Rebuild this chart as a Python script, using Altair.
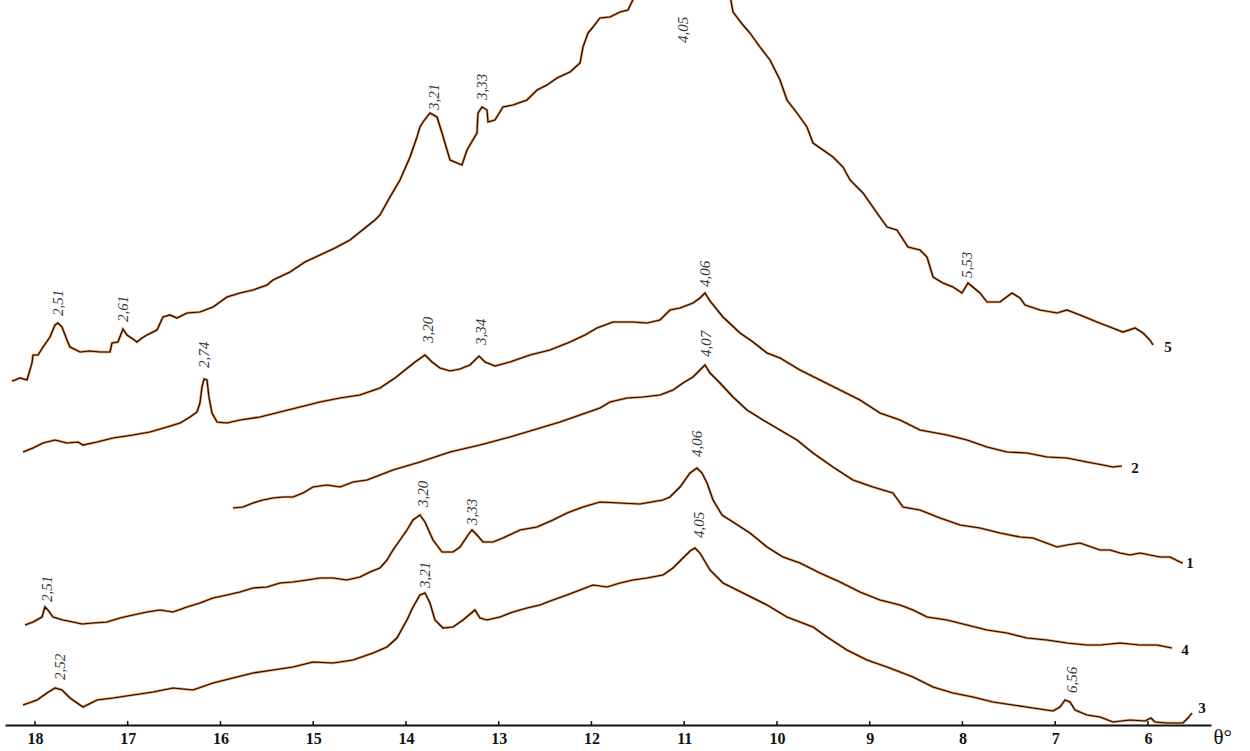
import altair as alt
import pandas as pd

# ---- curve data: theta (deg) and intensity (arbitrary units) ----
c5_theta = [18.248, 18.215, 18.161, 18.086, 18.032, 18.021, 17.967, 17.913, 17.838, 17.784, 17.752, 17.708, 17.655, 17.622,
            17.514, 17.407, 17.299, 17.191, 17.169, 17.105, 17.051, 17.008, 16.943, 16.900, 16.846, 16.792, 16.684, 16.620,
            16.544, 16.469, 16.361, 16.221, 16.080, 15.930, 15.789, 15.649, 15.498, 15.434, 15.250, 15.089, 14.927, 14.765,
            14.603, 14.442, 14.334, 14.280, 14.172, 14.064, 13.956, 13.881, 13.849, 13.816, 13.741, 13.665, 13.611, 13.525,
            13.396, 13.342, 13.234, 13.223, 13.180, 13.126, 13.115, 13.040, 12.954, 12.846, 12.695, 12.587, 12.479, 12.371,
            12.231, 12.123, 12.091, 12.037, 11.983, 11.908, 11.800, 11.692, 11.606, 11.477, 10.959, 10.506, 10.474, 10.366,
            10.291, 10.183, 10.075, 9.967, 9.892, 9.784, 9.676, 9.611, 9.503, 9.396, 9.288, 9.212, 9.072, 8.921, 8.813,
            8.706, 8.587, 8.458, 8.382, 8.317, 8.210, 8.102, 8.005, 7.940, 7.811, 7.735, 7.595, 7.466, 7.379, 7.325, 7.164,
            6.980, 6.873, 6.732, 6.549, 6.409, 6.269, 6.139, 6.053, 5.978, 5.945]
c5_int = [344, 345, 347, 345, 362, 370, 370, 378, 388, 400, 402, 398, 385, 378,
          373, 374, 373, 373, 382, 383, 396, 390, 386, 383, 387, 390, 395, 408,
          410, 407, 412, 413, 418, 428, 432, 435, 440, 445, 453, 463, 470, 477,
          485, 497, 505, 510, 528, 545, 568, 588, 598, 603, 612, 608, 592, 565,
          560, 575, 592, 612, 618, 615, 603, 605, 618, 620, 625, 635, 640, 647,
          653, 662, 678, 692, 698, 707, 708, 713, 715, 740, 770, 730, 713, 700,
          692, 678, 665, 645, 625, 612, 598, 582, 575, 568, 558, 545, 532, 512, 498,
          495, 478, 475, 468, 448, 442, 438, 432, 442, 432, 423, 423, 432, 427, 420, 415,
          412, 415, 410, 403, 398, 393, 397, 392, 385, 380]

c2_theta = [18.129, 18.021, 17.913, 17.784, 17.655, 17.536, 17.482, 17.331, 17.159, 16.943, 16.760, 16.576, 16.436, 16.328,
            16.253, 16.221, 16.199, 16.177, 16.145, 16.124, 16.091, 16.037, 15.930, 15.789, 15.574, 15.358, 15.142, 14.927,
            14.711, 14.496, 14.280, 14.118, 14.010, 13.902, 13.795, 13.719, 13.633, 13.525, 13.417, 13.310, 13.212, 13.148,
            13.040, 12.878, 12.663, 12.447, 12.231, 12.070, 11.940, 11.768, 11.552, 11.401, 11.261, 11.153, 11.045, 10.905,
            10.830, 10.776, 10.722, 10.582, 10.398, 10.258, 10.107, 9.967, 9.751, 9.536, 9.320, 9.105, 8.889, 8.673, 8.458,
            8.166, 7.951, 7.735, 7.520, 7.304, 7.088, 6.873, 6.657, 6.485, 6.377, 6.280]
c2_int = [273, 277, 282, 285, 282, 283, 280, 283, 287, 290, 293, 298, 302, 308,
          313, 322, 338, 346, 345, 328, 312, 303, 302, 305, 308, 313, 318, 323,
          327, 330, 337, 347, 355, 363, 370, 363, 357, 354, 356, 360, 369, 363,
          359, 363, 370, 375, 383, 390, 397, 403, 403, 402, 405, 415, 417, 422,
          427, 432, 424, 408, 392, 383, 372, 367, 355, 345, 335, 325, 312, 305, 295,
          290, 285, 278, 273, 272, 268, 267, 263, 260, 258, 259]

c1_theta = [15.865, 15.757, 15.649, 15.541, 15.434, 15.326, 15.218, 15.110, 15.002, 14.851, 14.711, 14.571, 14.420, 14.280,
            14.140, 13.849, 13.525, 13.202, 12.878, 12.555, 12.339, 12.123, 11.908, 11.800, 11.617, 11.444, 11.261, 11.121,
            11.013, 10.905, 10.830, 10.776, 10.722, 10.614, 10.474, 10.323, 10.150, 9.967, 9.784, 9.611, 9.396, 9.180, 8.964,
            8.749, 8.641, 8.458, 8.242, 8.026, 7.811, 7.595, 7.379, 7.239, 6.980, 6.873, 6.732, 6.517, 6.409, 6.301, 6.193,
            6.086, 5.978, 5.870, 5.762, 5.654, 5.622]
c1_int = [217, 218, 222, 225, 227, 228, 228, 232, 238, 240, 238, 243, 245, 250,
          255, 263, 273, 280, 288, 297, 303, 310, 317, 323, 327, 328, 330, 335,
          342, 348, 355, 360, 352, 342, 328, 315, 305, 295, 285, 272, 258, 245, 238,
          232, 218, 215, 207, 200, 197, 192, 188, 187, 178, 180, 182, 175, 175, 172, 170,
          172, 170, 168, 168, 163, 162]

c4_theta = [18.107, 18.021, 17.924, 17.892, 17.860, 17.806, 17.698, 17.590, 17.493, 17.374, 17.223, 17.083, 16.943, 16.792,
            16.652, 16.512, 16.361, 16.221, 16.080, 15.930, 15.789, 15.649, 15.498, 15.358, 15.218, 15.067, 14.927, 14.787,
            14.636, 14.496, 14.388, 14.280, 14.204, 14.140, 14.064, 13.989, 13.924, 13.849, 13.795, 13.708, 13.611, 13.493,
            13.417, 13.331, 13.288, 13.234, 13.169, 13.062, 12.954, 12.770, 12.587, 12.415, 12.264, 12.091, 11.908, 11.692,
            11.477, 11.229, 11.153, 11.045, 10.937, 10.862, 10.808, 10.754, 10.689, 10.592, 10.474, 10.291, 10.107, 9.935,
            9.751, 9.536, 9.320, 9.105, 8.889, 8.673, 8.533, 8.382, 8.166, 7.951, 7.735, 7.520, 7.304, 7.088, 6.873, 6.657,
            6.517, 6.301, 6.086, 5.902, 5.794, 5.741]
c4_int = [100, 103, 108, 118, 115, 108, 105, 103, 101, 102, 103, 107, 110, 113,
          115, 113, 118, 122, 127, 130, 133, 137, 138, 142, 143, 145, 147, 147,
          145, 148, 153, 157, 165, 175, 185, 195, 205, 210, 203, 185, 173, 173,
          178, 190, 195, 190, 183, 183, 187, 195, 198, 205, 212, 218, 223, 222,
          221, 225, 228, 238, 252, 257, 252, 242, 225, 210, 203, 192, 178, 168,
          162, 152, 143, 133, 125, 120, 115, 108, 105, 100, 95, 92, 87, 85, 82, 80,
          80, 82, 80, 80, 78, 77]

c3_theta = [18.129, 17.978, 17.870, 17.784, 17.708, 17.622, 17.482, 17.331, 17.159, 16.943, 16.727, 16.512, 16.296, 16.080,
            15.865, 15.649, 15.434, 15.218, 15.002, 14.787, 14.571, 14.355, 14.204, 14.097, 13.989, 13.924, 13.849, 13.795,
            13.741, 13.687, 13.601, 13.493, 13.385, 13.256, 13.202, 13.126, 12.986, 12.846, 12.695, 12.555, 12.415, 12.264,
            12.123, 11.983, 11.832, 11.692, 11.552, 11.401, 11.229, 11.121, 11.013, 10.937, 10.884, 10.830, 10.722, 10.582,
            10.366, 10.107, 9.892, 9.611, 9.460, 9.245, 9.029, 8.813, 8.533, 8.317, 8.102, 7.886, 7.671, 7.455, 7.239, 7.023,
            6.948, 6.894, 6.840, 6.786, 6.657, 6.517, 6.377, 6.193, 6.032, 5.967, 5.924, 5.794, 5.622, 5.568, 5.525]
c3_int = [20, 25, 32, 37, 35, 27, 18, 25, 27, 30, 33, 37, 35, 42,
          47, 52, 55, 58, 63, 62, 65, 72, 78, 87, 105, 118, 130, 132,
          122, 105, 97, 98, 105, 115, 107, 105, 108, 113, 117, 120, 125, 130,
          135, 140, 138, 142, 145, 147, 150, 157, 167, 174, 177, 172, 155, 142,
          132, 120, 108, 98, 88, 75, 65, 58, 48, 38, 32, 28, 23, 20, 17, 14,
          18, 25, 23, 15, 10, 8, 3, 5, 4, 7, 3, 2, 2, 7, 12]

# ---- peak labels (d-spacings) ----
pk_text = ["2,51", "2,61", "3,21", "3,33", "4,05", "5,53",
           "2,74", "3,20", "3,34", "4,06",
           "4,07",
           "2,51", "3,20", "3,33", "4,06",
           "2,52", "3,21", "4,05", "6,56"]
pk_theta = [17.752, 17.051, 13.698, 13.180, 11.013, 7.951,
            16.177, 13.762, 13.191, 10.776,
            10.765,
            17.870, 13.816, 13.288, 10.862,
            17.730, 13.795, 10.840, 6.819]
pk_int = [409, 403, 615, 625, 682, 447,
          357, 382, 380, 438,
          368,
          123, 218, 200, 268,
          45, 137, 187, 32]

# ---- curve numbers ----
num_text = ["5", "2", "1", "4", "3"]
num_theta = [5.784, 6.140, 5.546, 5.600, 5.417]
num_int = [378, 257, 162, 75, 17]

tick_values = [18, 17, 16, 15, 14, 13, 12, 11, 10, 9, 8, 7, 6]

rows = []
for name, th, it in [("5", c5_theta, c5_int), ("2", c2_theta, c2_int), ("1", c1_theta, c1_int),
                     ("4", c4_theta, c4_int), ("3", c3_theta, c3_int)]:
    for i, (t, v) in enumerate(zip(th, it)):
        rows.append({"curve": name, "idx": i, "theta": t, "intensity": v})
curves = pd.DataFrame(rows)
peaks = pd.DataFrame({"theta": pk_theta, "intensity": pk_int, "label": pk_text})
nums = pd.DataFrame({"theta": num_theta, "intensity": num_int, "label": num_text})
ticks = pd.DataFrame({"theta": tick_values})

W, H = 1206, 725
xscale = alt.Scale(domain=[18.323, 5.320], nice=False, zero=False)
yscale = alt.Scale(domain=[0, 725], nice=False, zero=False)

x_axis = alt.Axis(values=tick_values, format="d", ticks=False, grid=False, domain=True, domainColor="#111111",
                  domainWidth=2, labelFont="Liberation Serif", labelFontWeight="bold", labelFontSize=16,
                  labelColor="#111111", labelPadding=5, labelFlush=False, labelOverlap=False,
                  title="θ°", titleFont="Liberation Serif", titleFontWeight="normal", titleFontSize=21,
                  titleColor="#111111", titleX=1208, titleY=12, titleAlign="left", titleBaseline="middle",
                  titleAngle=0)

base = alt.Chart(curves)
halo = base.mark_line(color="#e0823a", strokeWidth=2.6, opacity=0.85, clip=True).encode(
    x=alt.X("theta:Q", scale=xscale, axis=x_axis),
    y=alt.Y("intensity:Q", scale=yscale, axis=None),
    detail="curve:N",
    order="idx:Q",
)
core = base.mark_line(color="#1a0b03", strokeWidth=1.2, clip=True).encode(
    x=alt.X("theta:Q", scale=xscale),
    y=alt.Y("intensity:Q", scale=yscale),
    detail="curve:N",
    order="idx:Q",
)

tick_marks = alt.Chart(ticks).mark_rule(color="#111111", strokeWidth=1.5).encode(
    x=alt.X("theta:Q", scale=xscale),
    y=alt.value(H),
    y2=alt.value(H - 4),
)

peak_labels = alt.Chart(peaks).mark_text(
    angle=270, align="left", baseline="middle", font="Liberation Serif", fontStyle="italic",
    fontSize=15, color="#3a3a3a"
).encode(
    x=alt.X("theta:Q", scale=xscale),
    y=alt.Y("intensity:Q", scale=yscale),
    text="label:N",
)

num_labels = alt.Chart(nums).mark_text(
    align="center", baseline="middle", font="Liberation Serif", fontWeight="bold",
    fontSize=15, color="#111111"
).encode(
    x=alt.X("theta:Q", scale=xscale),
    y=alt.Y("intensity:Q", scale=yscale),
    text="label:N",
)

chart = alt.layer(halo, core, tick_marks, peak_labels, num_labels).properties(
    width=W, height=H,
    autosize=alt.AutoSizeParams(type="none"),
    padding={"left": 5, "top": 0, "right": 39, "bottom": 26},
    background="white",
).configure_view(stroke=None)

chart.save("out.html", embed_options={"renderer": "svg", "actions": False})
